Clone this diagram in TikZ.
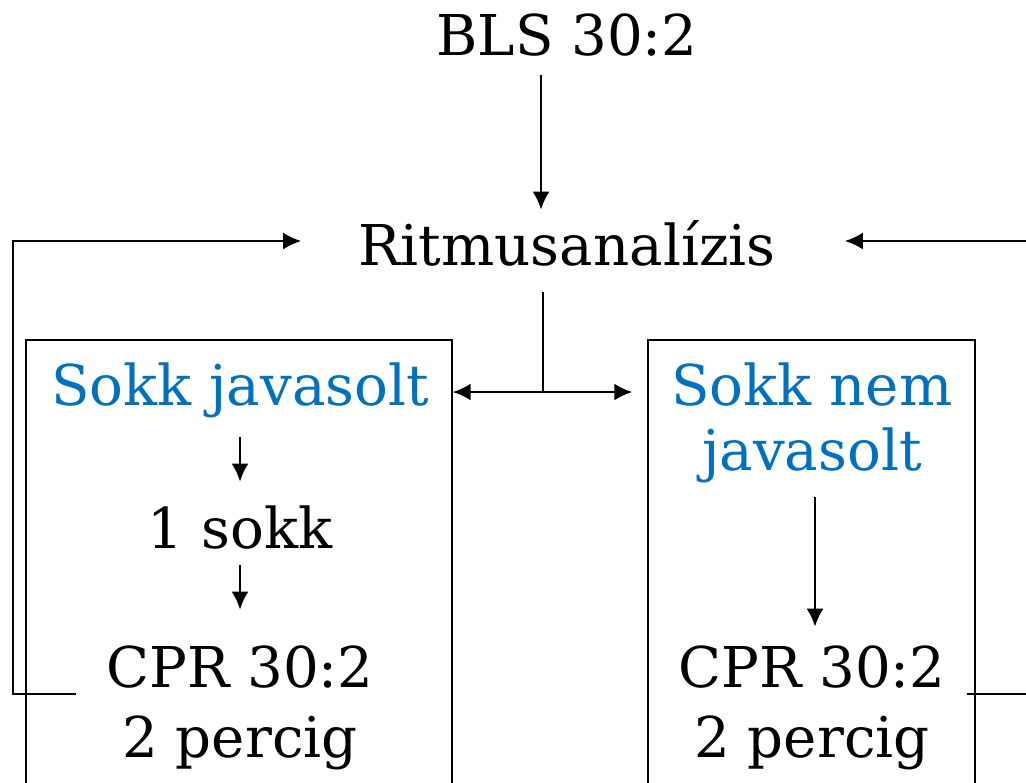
\documentclass[tikz,border=0pt]{standalone}
\usepackage{fontspec}
\setmainfont{DejaVu Serif}
\usetikzlibrary{arrows.meta}
\definecolor{sokkblue}{RGB}{0,112,192}
\begin{document}
\begin{tikzpicture}[>={Latex[length=0.36cm,width=0.34cm]},x=0.02cm,y=-0.02cm,
	txt/.style={font=\fontsize{32}{38}\selectfont,inner sep=0pt,anchor=base,text height=0.8cm,text depth=0.2cm},
	blue txt/.style={txt,text=sokkblue},
	flow/.style={line width=1.4pt},
	box/.style={draw,line width=0.8pt,inner sep=0pt,minimum height=10cm}]
	\useasboundingbox (0,0) rectangle (1026,782);
	%\draw [help lines,step=50] (0,0) grid (1026,782);
	% boxes, bottom runs off the page
	\node [box,minimum width=8.52cm] (leftbox) at (239,590) {};
	\node [box,minimum width=6.54cm] (rightbox) at (811.5,590) {};
	
	\node [txt] (bls) at (567,55) {BLS 30:2};
	\node [txt] (ritmus) at (567,265) {Ritmusanalízis};
	\node [blue txt] (sokkL) at (240,405) {Sokk javasolt};
	\node [txt] (egy) at (240,548) {1 sokk};
	\node [txt] (cprL) at (240,687) {CPR 30:2};
	\node [txt] (percigL) at (240,757) {2 percig};
	\node [blue txt] (sokkR) at (812,405) {Sokk nem};
	\node [blue txt] (javR) at (812,470) {javasolt};
	\node [txt] (cprR) at (812,687) {CPR 30:2};
	\node [txt] (percigR) at (812,757) {2 percig};
	\coordinate (split) at (543,392);
	
	\draw [flow,->,shorten <=0.2cm,shorten >=0.3cm] ([xshift=-0.52cm]bls.south) -- ([xshift=-0.52cm]ritmus.north);
	\draw [flow,shorten <=0.34cm] (ritmus.south -| split) -- (split);
	\draw [flow,<->,shorten >=0.3cm] (leftbox.east |- split) -- (rightbox.west |- split);
	\draw [flow,->,shorten <=0.44cm,shorten >=0.52cm] (sokkL.south) -- (egy.north);
	\draw [flow,->,shorten <=0.14cm,shorten >=0.74cm] (egy.south) -- (cprL.north);
	\draw [flow,->,shorten <=0.34cm,shorten >=0.4cm] ([xshift=0.06cm]javR.south) -- ([xshift=0.06cm]cprR.north);
	% back to the analysis
	\draw [flow,->] ([shift={(-30,22)}]cprL.west) -- ++(-63,0) |- ([shift={(-57,-9)}]ritmus.west);
	\draw [flow,->] ([shift={(21,22)}]cprR.east) -- ++(73,0) |- ([shift={(69,-9)}]ritmus.east);
\end{tikzpicture}
\end{document}
